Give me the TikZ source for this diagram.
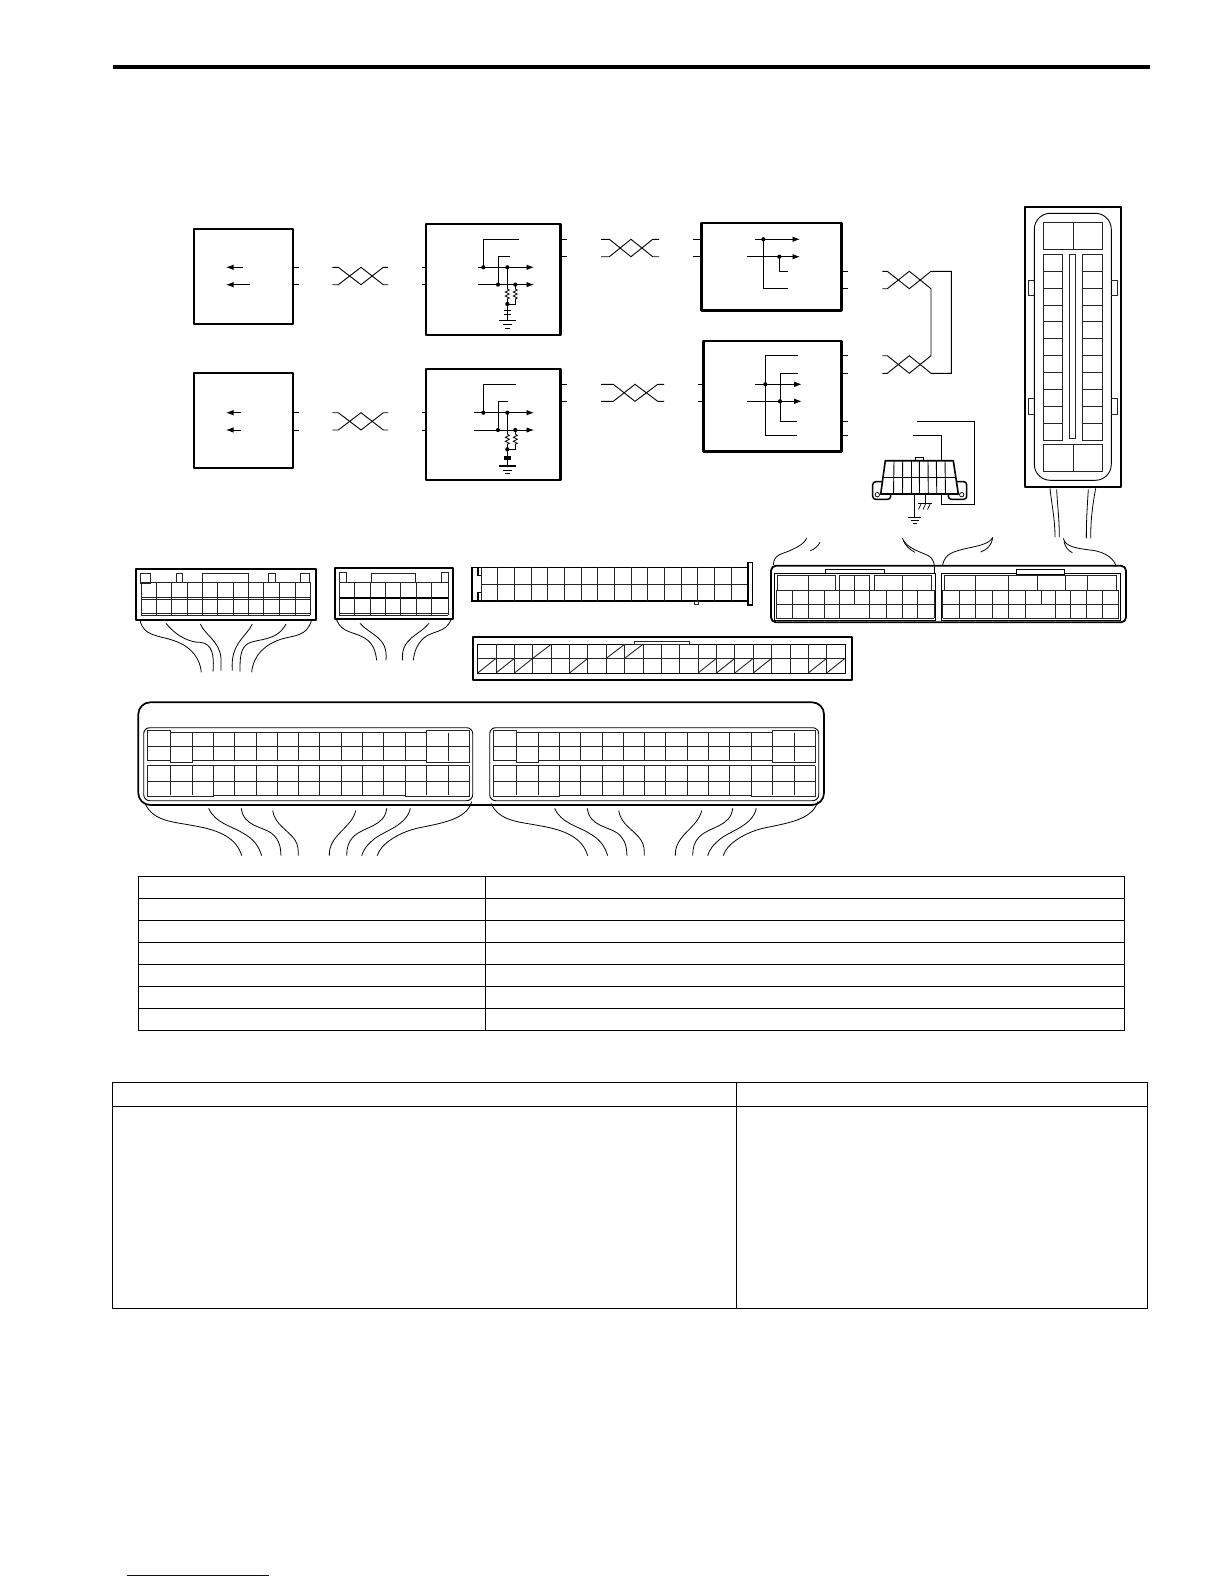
\documentclass[tikz,border=0pt]{standalone}
\usetikzlibrary{arrows.meta}
\tikzset{
  frame/.style={line width=2pt,line join=round},
  heavy/.style={line width=2.5pt,line join=round},
  thinl/.style={line width=.9pt},
  cell/.style={line width=.9pt,black!85},
  wire/.style={line width=.8pt},
  flow/.style={line width=.9pt,-{Latex[length=7.5pt,width=5.5pt]}},
  tbl/.style={line width=1pt},
}
\newcommand\twistpair[7]{%
  \draw[thinl] (#1,#6)--(#2,#6)--(#3,#7)--(#4,#6)--(#5,#6);
  \draw[thinl] (#1,#7)--(#2,#7)--(#3,#6)--(#4,#7)--(#5,#7);}
\newcommand\zigzag[2]{\draw[line width=.8pt] (#1,#2)--++(2,1)--++(-4,2)--++(4,2)--++(-4,2)--++(4,2)--++(-2,1);}
\newcommand\vset[3]{\foreach \xv in {#1}{\draw[cell] (\xv,#2)--(\xv,#3);}}
\newcommand\hset[3]{\foreach \yv in {#1}{\draw[cell] (#2,\yv)--(#3,\yv);}}
\newcommand\stubs[3]{\foreach \yv in {#3}{\draw[thinl] (#1,\yv)--(#2,\yv);}}
\newcommand\dotat[2]{\fill[black] (#1,#2) circle[radius=2.1pt];}
% sensing circuit: y1 y2 ytop1 ytop2 xend1 xend2 xstart yoffset
\newcommand\sensing[8]{%
  \draw[flow] (#7,#1)--(534,#1);
  \draw[flow] (#7,#2)--(534,#2);
  \draw[thinl] (483.3,#1)--(483.3,#3)--(#5,#3);
  \draw[thinl] (498,#2)--(498,#4)--(#6,#4);
  \dotat{483.3}{#1}\dotat{507.3}{#1}\dotat{498}{#2}\dotat{515.3}{#2}
  \draw[thinl] (507.3,#1)--(507.3,#8+289);
  \draw[thinl] (515.3,#2)--(515.3,#8+289);
  \zigzag{507.3}{#8+289}\zigzag{515.3}{#8+289}
  \draw[thinl] (507.3,#8+299)--(507.3,#8+320.7);
  \draw[thinl] (515.3,#8+299)--(515.3,#8+304)--(507.3,#8+304);
  \dotat{507.3}{#8+304}
  \draw[line width=1.4pt] (499,#8+320.7)--(515.8,#8+320.7);
  \draw[line width=.9pt] (503,#8+324.7)--(512,#8+324.7);
  \draw[line width=.9pt] (505,#8+328)--(510,#8+328);
}
\newcommand\backplane{%
  \draw[line width=.9pt,rounded corners=6pt] (143.7,727.7) rectangle (472.7,800.7);
  \foreach \xs in {147.3,170.3,192.3,213.3,234.7,256,277.3,298.3,319.7,341,362.3,383.7,405.3,426.7,448.3,469.3}{%
    \draw[cell] (\xs,732.7)--(\xs,760.7);
    \draw[cell] (\xs,765.7)--(\xs,795);}
  \draw[cell] (147.3,730.3)--(170.3,730.3)--(170.3,732.7)--(426.7,732.7)--(426.7,730.3)--(469.3,730.3);
  \draw[cell] (147.3,730.3)--(147.3,733);
  \draw[cell] (469.3,730.3)--(469.3,733);
  \hset{746.7}{147.3}{469.3}
  \draw[cell] (147.3,760.7)--(170.3,760.7)--(170.3,762.3)--(192.3,762.3)--(192.3,760.7)--(426.7,760.7)--(426.7,762.3)--(469.3,762.3)--(469.3,760.7);
  \draw[cell] (147.3,765.7)--(469.3,765.7);
  \hset{781}{147.3}{469.3}
  \draw[cell] (147.3,795)--(147.3,796.7)--(213.3,796.7)--(213.3,795)--(405.3,795)--(405.3,796.7)--(469.3,796.7)--(469.3,795);
  \begin{scope}[shift={(130,695)},x=.33333pt,y=-.33333pt]
    \draw[wire] (45,325) .. controls (70,380) and (130,380) .. (190,392) .. controls (270,405) and (320,430) .. (335,482);
    \draw[wire] (236,340) .. controls (255,385) and (310,395) .. (340,415) .. controls (370,432) and (385,450) .. (395,482);
    \draw[wire] (334,340) .. controls (340,395) and (400,395) .. (425,415) .. controls (450,435) and (452,460) .. (453,482);
    \draw[wire] (428,347) .. controls (435,390) and (475,405) .. (495,435) .. controls (505,450) and (505,465) .. (505,482);
    \draw[wire] (677,347) .. controls (665,400) and (595,420) .. (598,482);
    \draw[wire] (770,340) .. controls (765,395) and (700,395) .. (670,425) .. controls (655,440) and (650,460) .. (650,482);
    \draw[wire] (841,340) .. controls (830,390) and (770,405) .. (735,430) .. controls (710,450) and (700,465) .. (695,482);
    \draw[wire] (1025,320) .. controls (1010,375) and (930,385) .. (860,400) .. controls (800,415) and (750,450) .. (742,482);
  \end{scope}
}
\begin{document}
\begin{tikzpicture}[x=1pt,y=-1pt]
\useasboundingbox (0,0) rectangle (1224,1584);
\fill[white] (0,0) rectangle (1224,1584);
% header rule
\draw[line width=3.4pt] (113,67)--(1150,67);
% --- left receivers
\draw[frame] (193.7,228.7) rectangle (293.3,324);
\draw[frame] (193.7,372.7) rectangle (293.3,468.3);
\draw[flow] (242.7,267.3)--(226,267.3);
\draw[flow] (250,284.7)--(226,284.7);
\draw[flow] (241,412.7)--(226,412.7);
\draw[flow] (241,430)--(226,430);
\stubs{293.3}{299}{267.3,284.7,412.7,430}
\twistpair{332.3}{338.3}{361}{383.3}{388}{267.3}{284.7}
\twistpair{332.3}{338.3}{361}{383.3}{388}{412.7}{430}
% --- middle modules
\draw[heavy] (426,224) rectangle (560.7,335);
\draw[heavy] (426,369) rectangle (560.7,480);
\stubs{422.3}{426}{267.3,284.7,412.7,430}
\stubs{560.7}{566.7}{239.3,256.5,384.3,401.3}
\sensing{267.3}{284.6}{239.3}{256.3}{518.7}{510}{478.3}{0}
\sensing{412.7}{430}{384.3}{401.3}{515.7}{508.3}{474}{145.3}
\draw[line width=1.1pt] (504,310.7)--(511,310.7);
\draw[line width=1.1pt] (504,314.3)--(511,314.3);
\fill (503.8,456) rectangle (511.2,459.7);
\twistpair{601}{609.3}{631}{652.7}{659}{239.3}{256.7}
\twistpair{601}{613.3}{635}{657.7}{664}{384.3}{401.3}
% --- right modules
\draw[heavy] (701.3,223) rectangle (841.7,310.7);
\draw[heavy] (703.3,341) rectangle (841.7,451.7);
\stubs{693.3}{701.3}{239.3,256.7}
\stubs{698}{703.3}{384.3,401.3}
\stubs{841.7}{847.7}{271.3,288.7,355.7,373,421.3,435.3}
\draw[flow] (755,239.3)--(800,239.3);
\draw[flow] (747,256.7)--(800,256.7);
\draw[thinl] (763.3,239.3)--(763.3,288.7)--(788,288.7);
\draw[thinl] (779.3,256.7)--(779.3,271.3)--(788,271.3);
\dotat{763.3}{239.3}\dotat{779.3}{256.7}
\draw[flow] (755,384.3)--(801.7,384.3);
\draw[flow] (747,401.3)--(801.7,401.3);
\draw[thinl] (797.7,355.7)--(765.3,355.7)--(765.3,435.3)--(797,435.3);
\draw[thinl] (797.7,373)--(780,373)--(780,421.3)--(797,421.3);
\dotat{765.3}{384.3}\dotat{780}{401.3}
% --- bus twist
\draw[thinl] (882.3,271.3)--(887.3,271.3)--(909.3,288.7)--(931,271.3)--(951.3,271.3)--(951.3,373.3)--(931,373.3)--(909.3,355.7)--(887.3,373.3)--(882.3,373.3);
\draw[thinl] (882.3,288.7)--(887.3,288.7)--(909.3,271.3)--(931,288.7)--(931,355.7)--(909.3,373.3)--(887.3,355.7)--(882.3,355.7);
% --- diagnostic connector
\draw[thinl] (917,421.3)--(974.7,421.3)--(974.7,504.3)--(941.7,504.3)--(941.7,494);
\draw[thinl] (913.3,435.3)--(941.7,435.3)--(941.7,460.7);
\draw[line width=1.6pt,line join=round] (885.3,460.7)--(953.3,460.7)--(958.3,494)--(880.7,494)--cycle;
\draw[line width=1.1pt] (915.3,460.7) rectangle (923.7,457.3);
\draw[thinl] (883,477.3)--(955.7,477.3);
\foreach \xv/\xw in {894/893.5,902.7/902.5,911/911,919.3/919.5,928/928.3,936.3/936.8,945/945.5}{\draw[thinl] (\xv,460.7)--(\xw,494);}
\draw[line width=1.5pt,rounded corners=3pt] (882,481.7)--(872.7,481.7)--(872.7,499.3)--(890.7,499.3)--(890.7,494);
\draw[line width=1.5pt,rounded corners=3pt] (956.5,481.7)--(966.7,481.7)--(966.7,499.3)--(948.3,499.3)--(948.3,494);
\draw[line width=.7pt,fill=white] (877.3,494.7) circle[radius=2.2pt];
\draw[line width=.7pt,fill=white] (961.7,494.7) circle[radius=2.2pt];
\draw[thinl] (914.7,494)--(914.7,517.3);
\draw[line width=1.2pt] (908.3,517.3)--(920.5,517.3);
\draw[line width=.8pt] (910.5,520.3)--(918.5,520.3);
\draw[line width=.8pt] (912.5,523.3)--(916.5,523.3);
\draw[thinl] (925,494)--(925,503.7);
\draw[line width=1.1pt] (918,503.7)--(932,503.7);
\foreach \xv in {921,925.5,930}{\draw[line width=.7pt] (\xv,504)--(\xv-2.5,509.5);}
% --- tall connector
\draw[frame] (1024.7,206.7) rectangle (1121,487);
\draw[line width=.9pt,rounded corners=16pt] (1034.3,213.3) rectangle (1111.3,480.3);
\draw[cell] (1043.3,222.7) rectangle (1102.3,249.7);
\draw[cell] (1073,222.7)--(1073,249.7);
\draw[cell] (1043.3,444.3) rectangle (1102.3,471.3);
\draw[cell] (1073,444.3)--(1073,471.3);
\draw[cell] (1043,254.3) rectangle (1062.3,440);
\draw[cell] (1082.3,254.3) rectangle (1102.3,440);
\foreach \i in {1,...,10}{%
  \pgfmathsetmacro\yr{254.3+16.9*\i}
  \draw[cell] (1043,\yr)--(1062.3,\yr);
  \draw[cell] (1082.3,\yr)--(1102.3,\yr);}
\draw[cell] (1069.7,254.3) rectangle (1075.7,438.7);
\foreach \ya/\yb in {280.3/295.7,398.3/414}{%
  \draw[cell] (1034.3,\ya)--(1028,\ya)--(1028,\yb)--(1034.3,\yb);
  \draw[cell] (1111.3,\ya)--(1117.3,\ya)--(1117.3,\yb)--(1111.3,\yb);}
\begin{scope}[shift={(1000,195)},x=.33333pt,y=-.33333pt]
  \draw[wire] (150,880) .. controls (155,930) and (165,970) .. (165,1027);
  \draw[wire] (170,883) .. controls (172,930) and (178,970) .. (178,1027);
  \draw[wire] (287,880) .. controls (278,930) and (272,970) .. (272,1030);
  \draw[wire] (265,883) .. controls (262,930) and (259,970) .. (259,1030);
\end{scope}
% --- connector 1
\draw[frame] (135.7,569) rectangle (315.7,620);
\draw[cell] (140.7,583.3) rectangle (150.7,573.3);
\draw[cell] (176.3,582.3) rectangle (182.3,573.3);
\draw[cell] (202.3,582.3) rectangle (248.7,573.3);
\draw[cell] (268.3,582.3) rectangle (275.3,573.3);
\draw[cell] (300.3,582.3) rectangle (309.3,573.3);
\hset{582.3,597.7,599.3,613.3,615}{141.3}{310}
\vset{141.3,156.3,171.7,187.3,202.3,217.7,233.7,248.3,263.7,279.7,295.3,310}{582.3}{615}
\begin{scope}[shift={(125,555)},x=.33333pt,y=-.33333pt]
  \draw[wire] (45,195) .. controls (55,245) and (100,240) .. (150,258) .. controls (200,276) and (225,310) .. (229,352);
  \draw[wire] (123,205) .. controls (160,250) and (200,262) .. (225,262) .. controls (262,265) and (268,300) .. (264,350);
  \draw[wire] (226,207) .. controls (240,240) and (285,260) .. (288,310) -- (288,347);
  \draw[wire] (382,207) .. controls (365,245) and (315,265) .. (322,347);
  \draw[wire] (483,207) .. controls (455,260) and (400,250) .. (370,265) .. controls (345,280) and (345,310) .. (345,350);
  \draw[wire] (560,195) .. controls (545,245) and (510,240) .. (470,252) .. controls (420,268) and (385,300) .. (380,352);
  % connector 2 wires
  \draw[wire] (635,195) .. controls (650,235) and (690,230) .. (720,250) .. controls (745,265) and (752,290) .. (755,316);
  \draw[wire] (705,205) .. controls (735,240) and (790,245) .. (783,316);
  \draw[wire] (912,205) .. controls (885,240) and (825,250) .. (833,316);
  \draw[wire] (978,195) .. controls (960,235) and (925,225) .. (895,250) .. controls (875,270) and (868,290) .. (865,316);
\end{scope}
% --- connector 2
\draw[frame] (335,568) rectangle (453.3,618.7);
\draw[cell] (339.3,582.3) rectangle (346.7,572.3);
\draw[cell] (371.7,582.3) rectangle (415,573);
\draw[cell] (441.3,582.3) rectangle (448.7,572.3);
\hset{582.3,613.3,615}{339.3}{448.3}
\draw[line width=1.5pt] (339.3,598)--(448.3,598);
\vset{339.3,354.3,370.7,385.3,400.7,416.7,431.7,448.3}{582.3}{615}
% --- connector 3
\draw[line width=1.4pt] (481,567.3)--(747.7,567.3);
\draw[line width=1.4pt] (481,601)--(747.7,601);
\hset{584.3}{481}{747.7}
\foreach \i in {0,...,16}{\pgfmathsetmacro\xr{481+16.67*\i}\draw[cell] (\xr,567.3)--(\xr,601);}
\draw[line width=1.8pt] (472,566.6)--(472,601.7);
\draw[line width=1.6pt] (472,567.3)--(481,567.3);
\draw[line width=1.6pt] (472,601)--(481,601);
\draw[line width=1.6pt] (478,567.3)--(478,575.5)--(481,575.5);
\draw[line width=1.6pt] (478,601)--(478,592.5)--(481,592.5);
\draw[line width=1.6pt] (747.7,562.3) rectangle (752.3,605);
\draw[cell] (694.3,601) rectangle (698.3,604.7);
% --- connector 4
\draw[frame] (472.7,636.7) rectangle (851.7,680);
\draw[line width=1pt] (477.7,644.3) rectangle (845,673);
\hset{658.3}{477.7}{845}
\foreach \i in {1,...,19}{\pgfmathsetmacro\xr{477.7+18.367*\i}\draw[cell] (\xr,644.3)--(\xr,673);}
\draw[cell] (634.3,644.3) rectangle (689.3,641);
\foreach \i in {0,1,2,5,12,13,14,15,18,19}{%
  \pgfmathsetmacro\xr{477.7+18.367*\i}\pgfmathsetmacro\xs{477.7+18.367*(\i+1)}
  \draw[cell] (\xr,673)--(\xs,658.3);}
\foreach \i in {3,7,8}{%
  \pgfmathsetmacro\xr{477.7+18.367*\i}\pgfmathsetmacro\xs{477.7+18.367*(\i+1)}
  \draw[cell] (\xr,658.3)--(\xs,644.3);}
% --- ECM pair
\draw[line width=1.8pt,rounded corners=5pt] (771,565.7) rectangle (1126,622.3);
\draw[line width=.8pt] (774.3,573.3) rectangle (935.7,620);
\draw[line width=.8pt] (941,573.3) rectangle (1120,620);
\draw[fill=white,line width=.9pt] (825.7,573.3) rectangle (884.3,569.3);
\draw[fill=white,line width=.9pt] (1016.7,574) rectangle (1064,569.3);
\hset{575}{777.3}{835.3}
\hset{575}{839.3}{869}
\hset{575}{874.3}{931.7}
\vset{777.3,808.7,835.3,839.3,854.3,869,874.3,902,931.7}{575}{590}
\hset{590,604}{776}{934.3}
\hset{618.3}{776}{934.3}
\vset{776,792.3,808.7,824,839.3,854.3,869,886.3,902,917.7,934.3}{590}{604}
\vset{776,792.3,808.7,824,839.3,869,886.3,902,917.7,934.3}{604}{618.3}
\fill[white] (840,604.6) rectangle (868.5,617.8);
\hset{575}{944}{1116.3}
\vset{944,975.7,1008.3,1037,1065.7,1087.3,1116.3}{575}{590}
\hset{590,604,618.3}{942.7}{1118.7}
\vset{942.7,959.3,975.7,992.3,1008.7,1025,1041,1055.7,1070.7,1086.7,1102.7,1118.7}{590}{604}
\vset{942.7,959.3,975.7,992.3,1008.7,1025,1055.7,1070.7,1086.7,1102.7,1118.7}{604}{618.3}
\fill[white] (1025.5,604.6) rectangle (1055.2,617.8);
\begin{scope}[shift={(760,525)},x=.33333pt,y=-.33333pt]
  \draw[wire] (40,120) .. controls (42,85) and (65,90) .. (100,72) .. controls (120,62) and (132,55) .. (140,40);
  \draw[wire] (151,77) .. controls (165,72) and (175,62) .. (180,52);
  \draw[wire] (427,40) .. controls (440,70) and (480,80) .. (505,92) .. controls (520,100) and (525,115) .. (523,145);
  \draw[wire] (430,47) .. controls (435,60) and (450,75) .. (465,82);
  \draw[wire] (548,120) .. controls (555,85) and (580,80) .. (620,70) .. controls (660,62) and (690,55) .. (698,37);
  \draw[wire] (662,81) .. controls (680,75) and (695,60) .. (698,40);
  \draw[wire] (910,40) .. controls (915,65) and (950,70) .. (990,75) .. controls (1040,80) and (1065,105) .. (1068,125);
  \draw[wire] (912,50) .. controls (915,65) and (925,78) .. (937,83);
\end{scope}
% --- large backplane connector
\draw[line width=1.7pt,rounded corners=12pt] (138.3,702.3) rectangle (824,805);
\backplane
\begin{scope}[shift={(346,0)}]\backplane\end{scope}
% --- tables
\draw[tbl] (138.4,876) rectangle (1124.6,1030.3);
\foreach \yv in {898.3,920.3,942.3,964.3,986.3,1008.3}{\draw[tbl] (138.4,\yv)--(1124.6,\yv);}
\draw[tbl] (485.8,876)--(485.8,1030.3);
\draw[tbl] (112.7,1082.3) rectangle (1147.5,1308.3);
\draw[tbl] (112.7,1106.3)--(1147.5,1106.3);
\draw[tbl] (736.5,1082.3)--(736.5,1308.3);
% --- footer line
\draw[line width=1pt,color={rgb,255:red,0;green,0;blue,140}] (127.3,1575)--(269,1575);
\end{tikzpicture}
\end{document}
